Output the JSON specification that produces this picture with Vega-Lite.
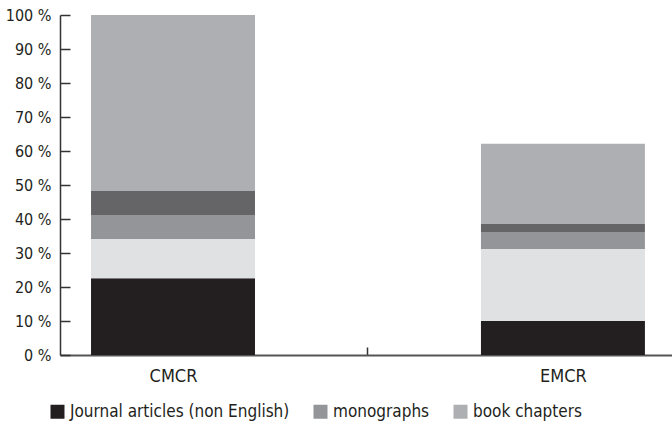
{
  "$schema": "https://vega.github.io/schema/vega-lite/v6.json",
  "width": 612,
  "height": 340,
  "autosize": {"type": "none"},
  "padding": {"left": 60, "top": 15, "right": 0, "bottom": 70},
  "background": "white",
  "config": {"view": {"stroke": null}, "font": "'DejaVu Sans Condensed', Roboto, sans-serif"},
  "data": {
    "values": [
      {"group": "CMCR", "type": "Journal articles (non English)", "order": 1, "pct": 22.6},
      {"group": "CMCR", "type": "Journal articles (English)", "order": 2, "pct": 11.5},
      {"group": "CMCR", "type": "monographs", "order": 3, "pct": 7.1},
      {"group": "CMCR", "type": "edited volumes", "order": 4, "pct": 7.0},
      {"group": "CMCR", "type": "book chapters", "order": 5, "pct": 51.8},
      {"group": "EMCR", "type": "Journal articles (non English)", "order": 1, "pct": 10.0},
      {"group": "EMCR", "type": "Journal articles (English)", "order": 2, "pct": 21.2},
      {"group": "EMCR", "type": "monographs", "order": 3, "pct": 5.0},
      {"group": "EMCR", "type": "edited volumes", "order": 4, "pct": 2.3},
      {"group": "EMCR", "type": "book chapters", "order": 5, "pct": 23.6}
    ]
  },
  "mark": {"type": "bar"},
  "encoding": {
    "x": {
      "field": "group",
      "type": "nominal",
      "sort": ["CMCR", "EMCR"],
      "scale": {"paddingInner": 0.5795, "paddingOuter": 0.0745, "align": 0.534},
      "axis": {
        "title": null,
        "labelAngle": 0,
        "labelFontSize": 18,
        "labelColor": "#231f20",
        "labelPadding": 20,
        "tickSize": -8,
        "tickOffset": -196,
        "labelOffset": 196,
        "tickColor": "#333333",
        "tickWidth": 1.5,
        "tickOpacity": {"condition": {"test": "datum.value === 'CMCR'", "value": 0}, "value": 1},
        "domainColor": "#555555",
        "domainWidth": 2
      }
    },
    "y": {
      "field": "pct",
      "type": "quantitative",
      "stack": "zero",
      "scale": {"domain": [0, 100]},
      "axis": {
        "title": null,
        "values": [0, 10, 20, 30, 40, 50, 60, 70, 80, 90, 100],
        "labelExpr": "datum.value + ' %'",
        "labelFontSize": 16,
        "labelColor": "#231f20",
        "labelPadding": 19,
        "tickSize": -10,
        "tickColor": "#333333",
        "tickWidth": 1.5,
        "grid": false,
        "domainColor": "#333333",
        "domainWidth": 1.5
      }
    },
    "color": {
      "field": "type",
      "type": "nominal",
      "scale": {
        "domain": ["Journal articles (non English)", "Journal articles (English)", "monographs", "edited volumes", "book chapters"],
        "range": ["#231f20", "#e0e1e3", "#939598", "#656567", "#aeafb2"]
      },
      "legend": {
        "title": null,
        "orient": "none",
        "direction": "horizontal",
        "legendX": -11,
        "legendY": 388,
        "values": ["Journal articles (non English)", "monographs", "book chapters"],
        "symbolType": "square",
        "symbolSize": 196,
        "symbolStrokeWidth": 0,
        "labelFontSize": 17,
        "labelLimit": 400,
        "labelColor": "#231f20",
        "labelOffset": 4,
        "columnPadding": 22
      }
    },
    "order": {"field": "order"}
  }
}
